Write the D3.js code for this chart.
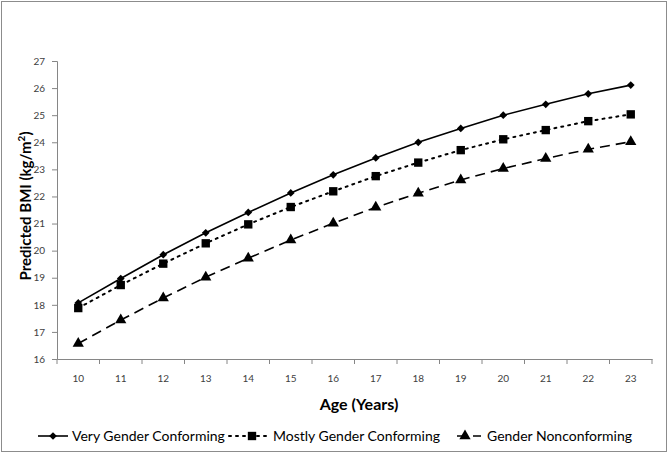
<!DOCTYPE html>
<html>
<head>
<meta charset="utf-8">
<script src="https://cdn.jsdelivr.net/npm/d3@7"></script>
<style>
  html, body { margin: 0; padding: 0; background: #fff; }
  svg { display: block; }
</style>
</head>
<body>
<svg id="chart" width="670" height="454"></svg>
<script>
// ---- data ----
const ages = [10, 11, 12, 13, 14, 15, 16, 17, 18, 19, 20, 21, 22, 23];
const veryConforming   = [18.07, 18.97, 19.85, 20.66, 21.41, 22.13, 22.80, 23.42, 24.00, 24.51, 25.00, 25.40, 25.79, 26.11];
const mostlyConforming = [17.88, 18.73, 19.52, 20.27, 20.97, 21.61, 22.19, 22.75, 23.25, 23.71, 24.11, 24.45, 24.78, 25.03];
const nonconforming    = [16.57, 17.44, 18.25, 19.02, 19.72, 20.39, 21.01, 21.60, 22.12, 22.61, 23.03, 23.40, 23.74, 24.02];
const yTicks = [16, 17, 18, 19, 20, 21, 22, 23, 24, 25, 26, 27];
const seriesNames = ["Very Gender Conforming", "Mostly Gender Conforming", "Gender Nonconforming"];
const yTitle = "Predicted BMI (kg/m";
const xTitle = "Age (Years)";

const seriesValues = [veryConforming, mostlyConforming, nonconforming];
const styles = [
  { dash: null, symbol: d3.symbolSquare, rot: 45, size: 30, lw: 1.6 },
  { dash: "2,5", symbol: d3.symbolSquare, rot: 0, size: 70, lw: 2 },
  { dash: "10,6", symbol: d3.symbolTriangle, rot: 0, size: 55, lw: 1.6 }
];

const svg = d3.select("#chart");

// outer border
svg.append("rect").attr("x", 1.5).attr("y", 1.5).attr("width", 665).attr("height", 450)
  .attr("fill", "#fff").attr("stroke", "#8c8c8c").attr("stroke-width", 1);

const pLeft = 57, pRight = 652, pTop = 61, pBottom = 359;

const x = d3.scaleBand().domain(ages).range([pLeft, pRight]).paddingInner(0).paddingOuter(0);
const y = d3.scaleLinear().domain([16, 27]).range([pBottom, pTop]);
const cx = a => x(a) + x.bandwidth() / 2;

const axisColor = "#868686";
const tickFont = "Lato, 'Open Sans', sans-serif";

// y axis
const yAxis = svg.append("g").attr("transform", `translate(${pLeft},0)`)
  .call(d3.axisLeft(y).tickValues(yTicks).tickSize(5).tickPadding(7).tickFormat(d3.format("d")));
yAxis.select(".domain").attr("stroke", axisColor);
yAxis.selectAll(".tick line").attr("stroke", axisColor);
yAxis.selectAll("text").attr("font-family", tickFont).attr("font-size", 10).attr("fill", "#404040");

// x axis (labels centered in bands, ticks at band boundaries)
const xAxis = svg.append("g").attr("transform", `translate(0,${pBottom})`)
  .call(d3.axisBottom(x).tickSize(0).tickPadding(16));
xAxis.select(".domain").attr("stroke", axisColor);
xAxis.selectAll("text").attr("font-family", tickFont).attr("font-size", 10).attr("fill", "#404040");
const boundaries = ages.map(a => x(a)).concat([x(ages[ages.length - 1]) + x.bandwidth()]);
svg.append("g").selectAll("line").data(boundaries).join("line")
  .attr("x1", d => d).attr("x2", d => d)
  .attr("y1", pBottom).attr("y2", pBottom + 5)
  .attr("stroke", axisColor);

// series
const line = d3.line().x((d, i) => cx(ages[i])).y(d => y(d));
seriesValues.forEach((vals, si) => {
  const st = styles[si];
  svg.append("path").datum(vals)
    .attr("d", line)
    .attr("fill", "none")
    .attr("stroke", "#000")
    .attr("stroke-width", st.lw)
    .attr("stroke-dasharray", st.dash)
    .attr("stroke-linecap", si === 1 ? "round" : "butt");
  svg.append("g").selectAll("path").data(vals).join("path")
    .attr("transform", (d, i) => `translate(${cx(ages[i])},${y(d)}) rotate(${st.rot})`)
    .attr("d", d3.symbol().type(st.symbol).size(st.size))
    .attr("fill", "#000");
});

// titles
const yt = svg.append("text")
  .attr("transform", `translate(31,206) rotate(-90)`)
  .attr("text-anchor", "middle")
  .attr("font-family", tickFont).attr("font-weight", "bold").attr("font-size", 15)
  .attr("fill", "#000");
yt.append("tspan").text(yTitle);
yt.append("tspan").attr("dy", -6).attr("font-size", 10).text("2");
yt.append("tspan").attr("dy", 6).text(")");

svg.append("text").attr("x", 359).attr("y", 410)
  .attr("text-anchor", "middle")
  .attr("font-family", tickFont).attr("font-weight", "bold").attr("font-size", 16)
  .attr("fill", "#000").text(xTitle);

// legend
const legendItems = [
  { x1: 38, x2: 68, mx: 53, tx: 72 },
  { x1: 229, x2: 266, mx: 252, tx: 273 },
  { x1: 457, x2: 481, mx: 465, tx: 487 }
];
const ly = 436;
legendItems.forEach((it, si) => {
  const st = styles[si];
  const g = svg.append("g");
  g.append("line").attr("x1", it.x1).attr("x2", it.x2).attr("y1", ly).attr("y2", ly)
    .attr("stroke", "#000").attr("stroke-width", st.lw)
    .attr("stroke-dasharray", st.dash)
    .attr("stroke-linecap", si === 1 ? "round" : "butt");
  g.append("path").attr("transform", `translate(${it.mx},${ly}) rotate(${st.rot})`)
    .attr("d", d3.symbol().type(st.symbol).size(st.size)).attr("fill", "#000");
  g.append("text").attr("x", it.tx).attr("y", ly + 5)
    .attr("font-family", tickFont).attr("font-size", 14).attr("fill", "#000")
    .text(seriesNames[si]);
});
</script>
</body>
</html>
